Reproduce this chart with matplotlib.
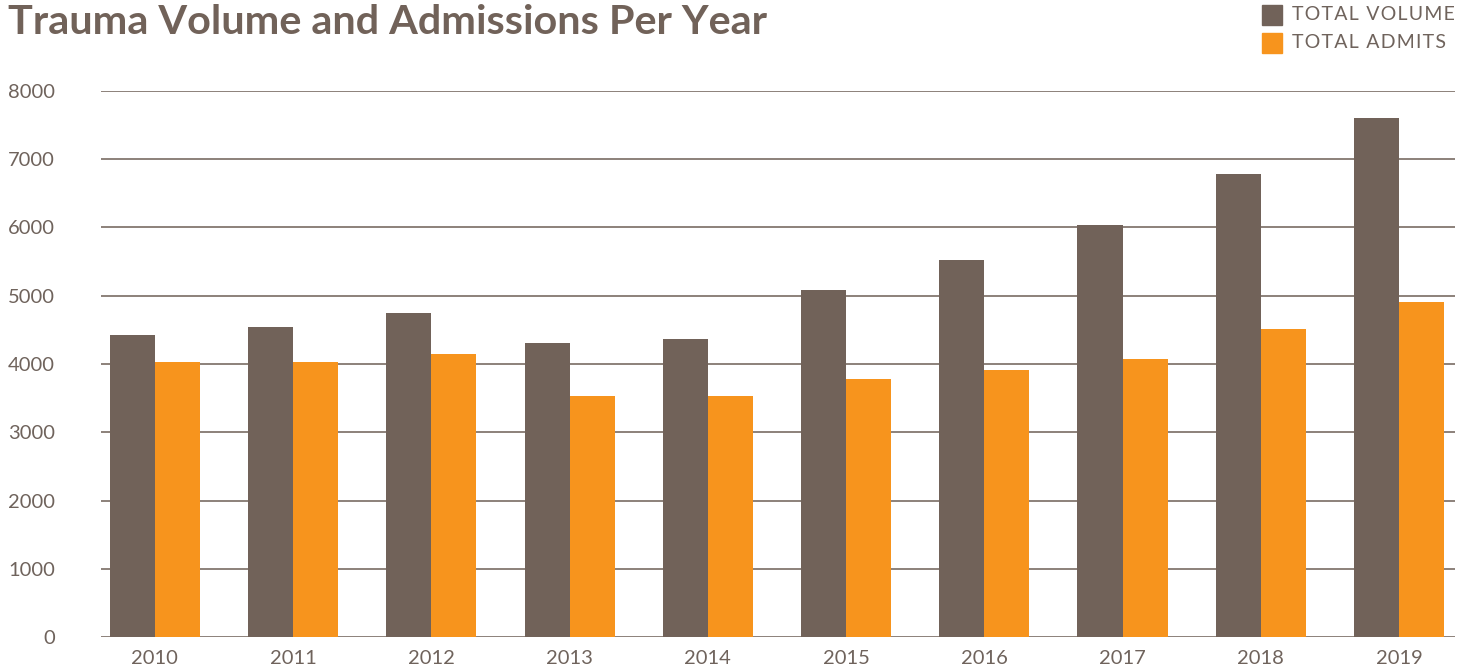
import numpy as np
import matplotlib
matplotlib.use("Agg")
import matplotlib.pyplot as plt
from matplotlib.patches import Rectangle

years = ["2010", "2011", "2012", "2013", "2014", "2015", "2016", "2017", "2018", "2019"]
total_volume = [4430, 4540, 4740, 4310, 4370, 5080, 5530, 6030, 6790, 7600]
total_admits = [4030, 4030, 4140, 3530, 3530, 3780, 3910, 4070, 4510, 4910]
y_ticks = [0, 1000, 2000, 3000, 4000, 5000, 6000, 7000, 8000]

brown = "#716259"
orange = "#f7941d"
text_col = "#6f635c"
grid_col = "#8c817a"

plt.rcParams["font.family"] = ["Lato", "DejaVu Sans"]

fig = plt.figure(figsize=(14.71, 6.70), dpi=100)
ax = fig.add_axes([101 / 1471, 1 - 637 / 670, (1455 - 101) / 1471, (637 - 91) / 670])

x = np.arange(len(years))
w = 0.326
ax.bar(x - w / 2, total_volume, width=w, color=brown, zorder=3)
ax.bar(x + w / 2, total_admits, width=w, color=orange, zorder=3)

ax.set_xlim(-0.39, len(years) - 1 + 0.405)
ax.set_ylim(0, 8000)
ax.set_yticks(y_ticks)
ax.set_yticklabels([str(t) for t in y_ticks])
ax.set_xticks(x)
ax.set_xticklabels(years)

for t in y_ticks:
    ax.axhline(t, color=grid_col, lw=1.4, zorder=2)

for s in ax.spines.values():
    s.set_visible(False)
ax.tick_params(axis="y", length=0, pad=33, labelsize=14.5, labelcolor=text_col)
ax.tick_params(axis="x", length=0, pad=9, labelsize=14.5, labelcolor=text_col)

fig.text(8 / 1471, 1 - 22 / 670, "Trauma Volume and Admissions Per Year",
         fontsize=29.8, fontweight="bold", color=brown, va="center", ha="left")

# legend drawn by hand: two squares with letter-spaced caps labels
hair = "\u200a"
for i, (lab, col) in enumerate([("TOTAL VOLUME", brown), ("TOTAL ADMITS", orange)]):
    yc = 15 + i * 28
    fig.patches.append(Rectangle((1262 / 1471, 1 - (yc + 10) / 670), 20 / 1471, 20 / 670,
                                 transform=fig.transFigure, color=col))
    fig.text(1292 / 1471, 1 - yc / 670, hair.join(lab), fontsize=14, color=text_col,
             va="center", ha="left")

fig.savefig("out.png", dpi=100)
